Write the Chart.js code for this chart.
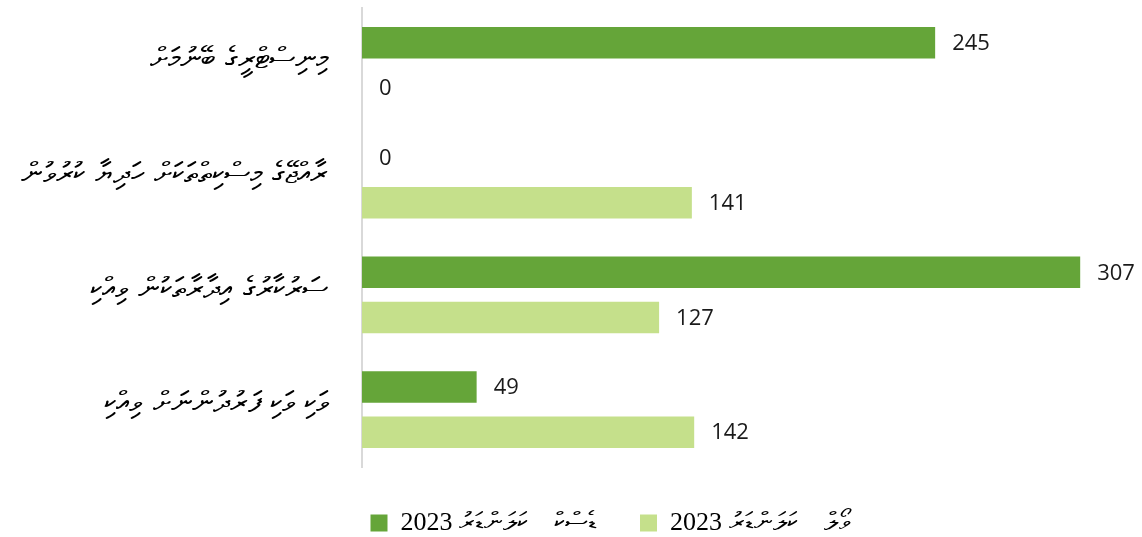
<!DOCTYPE html>
<html>
<head>
<meta charset="utf-8">
<script src="https://cdn.jsdelivr.net/npm/chart.js@4"></script>
<style>
  html, body { margin: 0; padding: 0; background: #fff; }
  #wrap { width: 1142px; height: 537px; }
</style>
</head>
<body>
<div id="wrap"><canvas id="chart"></canvas></div>
<script>
// categories (top to bottom)
var categories = [
  "މިނިސްޓްރީގެ ބޭނުމަށް",
  "ރާއްޖޭގެ މިސްކިތްތަކަށް ހަދިޔާ ކުރުވުން",
  "ސަރުކާރުގެ އިދާރާތަކުން ވިއްކި",
  "ވަކި ވަކި ފަރުދުންނަށް ވިއްކި"
];

// series
var deskLabel = "2023 ޑެސްކް    ކަލަންޑަރު";
var deskValues = [245, 0, 307, 49];

var wallLabel = "2023 ވޯލް    ކަލަންޑަރު";
var wallValues = [0, 141, 127, 142];

var xMax = 330;

// value labels right of each bar
var valueLabels = {
  id: 'valueLabels',
  afterDatasetsDraw: function(chart) {
    var ctx = chart.ctx;
    ctx.save();
    ctx.font = '22px "Open Sans", "Noto Sans", sans-serif';
    ctx.fillStyle = '#1a1a1a';
    ctx.textAlign = 'left';
    ctx.textBaseline = 'middle';
    chart.data.datasets.forEach(function(ds, i) {
      chart.getDatasetMeta(i).data.forEach(function(bar, j) {
        ctx.fillText(String(ds.data[j]), bar.x + 17, bar.y + 1);
      });
    });
    ctx.restore();
  }
};

// legend sits a little right of centre in the original
var legendShift = {
  id: 'legendShift',
  afterLayout: function(chart) {
    chart.legend.left += 43;
    chart.legend.right += 43;
  }
};

new Chart(document.getElementById("chart"), {
  type: 'bar',
  data: {
    labels: categories,
    datasets: [
      {
        label: deskLabel,
        backgroundColor: "#65a539",
        data: deskValues
      },
      {
        label: wallLabel,
        backgroundColor: "#c5e08b",
        data: wallValues
      }
    ]
  },
  options: {
    indexAxis: 'y',
    responsive: true,
    maintainAspectRatio: false,
    animation: false,
    categoryPercentage: 0.786,
    barPercentage: 0.7,
    layout: {padding: {top: 8, right: 8, left: 0, bottom: -9}},
    scales: {
      x: {
        display: false,
        min: 0,
        max: xMax
      },
      y: {
        grid: {display: false},
        border: {display: true, color: '#d9d9d9', width: 2},
        ticks: {
          color: '#000',
          padding: 26,
          labelOffset: -5,
          font: {size: 30, family: '"DejaVu Sans", "Noto Sans", sans-serif'}
        },
        afterFit: function(scale) {
          scale.width = 362;
          scale.paddingTop = 0;
          scale.paddingBottom = 0;
        }
      }
    },
    plugins: {
      legend: {
        position: 'bottom',
        labels: {
          boxWidth: 17,
          boxHeight: 17,
          padding: 43,
          color: '#000',
          font: {size: 26, family: '"Liberation Serif", "DejaVu Serif", serif'}
        }
      },
      tooltip: {enabled: false}
    }
  },
  plugins: [valueLabels, legendShift]
});
</script>
</body>
</html>
